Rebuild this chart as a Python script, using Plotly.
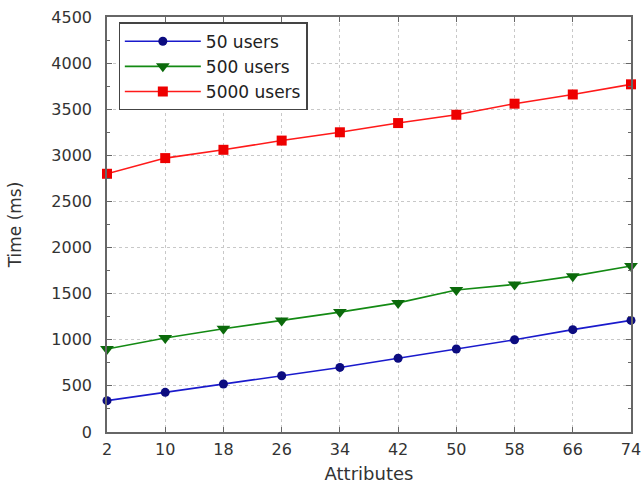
import plotly.graph_objects as go

attributes = [2, 10, 18, 26, 34, 42, 50, 58, 66, 74]
users_50 = [340, 430, 520, 610, 700, 800, 900, 1000, 1110, 1210]
users_500 = [900, 1020, 1120, 1210, 1300, 1400, 1540, 1600, 1690, 1800]
users_5000 = [2800, 2970, 3060, 3160, 3250, 3350, 3440, 3560, 3660, 3770]

fig = go.Figure()
fig.add_trace(go.Scatter(x=attributes, y=users_50, name="50 users", mode="lines+markers",
                         cliponaxis=False,
                         line=dict(color="#1a1acc", width=1.6),
                         marker=dict(symbol="circle", size=9, color="#0c0c80")))
fig.add_trace(go.Scatter(x=attributes, y=users_500, name="500 users", mode="lines+markers",
                         cliponaxis=False,
                         line=dict(color="#138a13", width=1.6),
                         marker=dict(symbol="triangle-down", size=12, color="#0b6a0b")))
fig.add_trace(go.Scatter(x=attributes, y=users_5000, name="5000 users", mode="lines+markers",
                         cliponaxis=False,
                         line=dict(color="#ff1a1a", width=1.6),
                         marker=dict(symbol="square", size=10, color="#ee0000")))

axis_common = dict(showline=True, linecolor="#666666", linewidth=1.5, mirror="ticks",
                   ticks="inside", ticklen=5, tickcolor="#666666",
                   showgrid=True, gridcolor="#c8c8c8", griddash="dot", gridwidth=1,
                   zeroline=False, automargin=False, ticklabeloverflow="allow",
                   tickfont=dict(size=16, color="#333333"))

fig.update_layout(
    width=641, height=484,
    margin=dict(l=107, r=10, t=17, b=52),
    paper_bgcolor="white", plot_bgcolor="white",
    font=dict(family="DejaVu Sans", size=15, color="#333333"),
    xaxis=dict(range=[2, 74], tickvals=attributes, ticklabelstandoff=2,
               title=dict(text="Attributes", standoff=9, font=dict(size=18)), **axis_common),
    yaxis=dict(range=[0, 4500], dtick=500, ticklabelstandoff=10,
               title=dict(text="Time (ms)", standoff=25, font=dict(size=17)),
               minor=dict(ticks="inside", ticklen=3, dtick=250, tickcolor="#666666", showgrid=False),
               **axis_common),
    legend=dict(x=0.022, y=0.987, xanchor="left", yanchor="top",
                bgcolor="white", bordercolor="#444444", borderwidth=1.3,
                font=dict(size=17, color="#222222"), itemwidth=76, tracegroupgap=0),
    showlegend=True,
)

fig.write_html("out.html", config={"displayModeBar": False},
               post_script="document.body.style.margin='0';")
